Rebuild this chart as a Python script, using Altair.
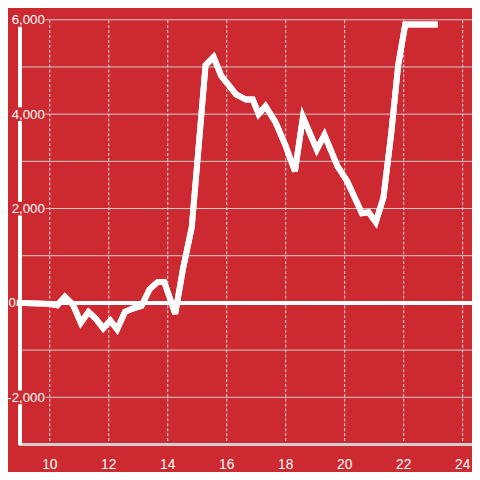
import altair as alt
import pandas as pd

hours = [9.0, 10.0, 10.27, 10.53, 10.8, 11.07, 11.33, 11.57, 11.83, 12.07, 12.3, 12.57,
         12.83, 13.13, 13.4, 13.67, 13.9, 14.27, 14.53, 14.83, 15.3, 15.57, 15.83,
         16.07, 16.33, 16.67, 16.9, 17.1, 17.33, 17.67, 18.0, 18.33, 18.6, 19.07, 19.33,
         19.77, 20.1, 20.6, 20.83, 21.07, 21.33, 21.6, 21.83, 22.07, 23.07]
values = [0, -20, -50, 130, -35, -420, -190, -330, -540, -375, -560, -190,
          -120, -60, 290, 440, 440, -230, 710, 1600, 5040, 5210, 4810,
          4625, 4420, 4310, 4310, 4000, 4170, 3830, 3350, 2790, 3940, 3250, 3560,
          2900, 2580, 1900, 1920, 1710, 2230, 3625, 5040, 5900, 5900]

x_ticks = list(range(10, 25))
y_grid = list(range(-3000, 6001, 1000))
y_labels = [6000, 4000, 2000, 0, -2000]
x_start = 9
x_domain = [8.6, 24.333]
y_domain = [-3000, 6000]

BG = "#cc2a30"
GRID = "#cfcfcf"
FONT = "Liberation Sans"

df = pd.DataFrame({"hour": hours, "value": values})
grid = pd.DataFrame({"g": y_grid})
lab = pd.DataFrame({"v": y_labels})
lab_wide = lab[lab.v != 0]
lab_zero = lab[lab.v == 0]

xs = alt.Scale(domain=x_domain, nice=False, zero=False)
ys = alt.Scale(domain=y_domain, nice=False, zero=False)

xaxis = alt.Axis(values=x_ticks, grid=True, gridColor="#e6e6e6", gridDash=[3, 2],
                 gridWidth=1, ticks=False, tickSize=0, domain=False,
                 labelColor="white", labelFontSize=14, labelFont=FONT,
                 labelPadding=13, title=None, labelFlush=False, labelOverlap=False)
yaxis = alt.Axis(values=y_labels, format=",d", grid=False, domain=False, ticks=False,
                 tickSize=0, title=None, labelColor="white", labelFontSize=13.5,
                 labelFont=FONT, labelPadding=-37, labelAlign="right",
                 labelBaseline="middle", labelFlush=False, labelOverlap=False,
                 labelExpr="datum.value == 0 ? '' : replace(datum.label, '\u2212', '-')",
                 zindex=1)

line = alt.Chart(df).mark_line(color="white", strokeWidth=6, strokeCap="square").encode(
    x=alt.X("hour:Q", scale=xs, axis=xaxis),
    y=alt.Y("value:Q", scale=ys, axis=yaxis),
)

hgrid = alt.Chart(grid).mark_rule(color=GRID, strokeWidth=1).encode(
    x=alt.datum(x_start, scale=xs),
    x2=alt.datum(x_domain[1]),
    y=alt.Y("g:Q", scale=ys),
)

xline = alt.Chart(df).mark_rule(color=GRID, strokeWidth=1.5).encode(
    x=alt.datum(x_start, scale=xs),
    x2=alt.datum(x_domain[1]),
    y=alt.datum(y_domain[0], scale=ys),
)

yline = alt.Chart(df).mark_rule(color="white", strokeWidth=3).encode(
    x=alt.datum(x_start, scale=xs),
    y=alt.datum(y_domain[0], scale=ys),
    y2=alt.datum(y_domain[1]),
)

zero = alt.Chart(df).mark_rule(color="white", strokeWidth=2.5).encode(
    x=alt.datum(x_start, scale=xs),
    x2=alt.datum(x_domain[1]),
    y=alt.datum(0, scale=ys),
)

# label backgrounds (gaps in the axis line and gridlines behind the labels)
gaps = alt.Chart(lab_wide).mark_rule(color=BG, strokeWidth=14).encode(
    x=alt.value(0),
    x2=alt.value(38),
    y=alt.Y("v:Q", scale=ys),
)

zero_label = alt.Chart(lab_zero).mark_text(
    align="right", baseline="middle", fontSize=13.5, font=FONT, dx=-4, color="white",
).encode(
    x=alt.datum(x_start, scale=xs),
    y=alt.Y("v:Q", scale=ys),
    text=alt.Text("v:Q", format="d"),
)

chart = alt.layer(
    line, hgrid, xline, yline, zero, gaps, zero_label, line,
).properties(
    width=472, height=432,
    background=BG,
    padding={"left": 0, "top": 8, "right": 0, "bottom": 24},
    autosize="none",
).configure_view(stroke=None)

chart.save("out.html", embed_options={"renderer": "svg", "actions": False})
